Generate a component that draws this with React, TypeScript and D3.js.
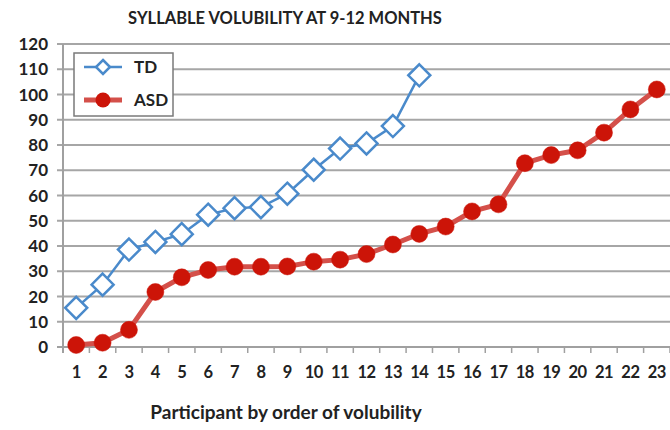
import React from "react";
import * as d3 from "d3";

const categories = Array.from({ length: 23 }, (_, i) => String(i + 1));
const tdValues = [15.5, 24.7, 38.6, 41.6, 44.7, 52.4, 55.0, 55.4, 60.7, 70.2, 78.6, 80.6, 87.5, 107.6];
const asdValues = [0.8, 1.7, 6.8, 21.8, 27.6, 30.5, 31.8, 31.8, 31.9, 33.8, 34.6, 36.8, 40.6, 44.8, 47.7, 53.7, 56.5, 72.8, 76.0, 77.9, 84.9, 94.1, 102.0];
const yTicks = [0, 10, 20, 30, 40, 50, 60, 70, 80, 90, 100, 110, 120];
const title = "SYLLABLE VOLUBILITY AT 9-12 MONTHS";
const xTitle = "Participant by order of volubility";

const W = 670, H = 430;
const L = 63, R = 670, T = 44, B = 347;
const font = "Lato, 'Open Sans', sans-serif";

export default function App() {
  const x = d3.scaleBand().domain(categories).range([L, R]).padding(0);
  const y = d3.scaleLinear().domain([0, 120]).range([B, T]);
  const cx = (i: number) => (x(categories[i]) as number) + x.bandwidth() / 2;
  const line = d3.line<number>().x((_, i) => cx(i)).y((d) => y(d));
  const diamond = (px: number, py: number, r: number) =>
    `M${px},${py - r}L${px + r},${py}L${px},${py + r}L${px - r},${py}Z`;
  const blue = "#4a8acb";
  const red = "#cc1408";
  const redLine = "#d4504a";
  return (
    <svg width={W} height={H} style={{ position: "absolute", left: 0, top: 0, background: "#fff" }}>
      <rect x={0} y={0} width={W} height={H} fill="#fff" />
      <text x={285} y={24} textAnchor="middle" fontFamily={font} fontWeight="bold" fontSize={16.5} fill="#222">{title}</text>
      {yTicks.map((t) => (
        <g key={t}>
          <line x1={t === 0 ? 57 : 57} x2={R} y1={y(t)} y2={y(t)} stroke={t === 0 ? "#a0a0a0" : "#a6a6a6"} strokeWidth={2} />
          <text x={48} y={y(t)} dy="0.36em" textAnchor="end" fontFamily={font} fontWeight="bold" fontSize={17} fill="#222">{t}</text>
        </g>
      ))}
      <line x1={L} x2={L} y1={T} y2={B + 6} stroke="#a0a0a0" strokeWidth={2} />
      {categories.map((c, i) => (
        <g key={c}>
          <line x1={(x(c) as number) + x.bandwidth()} x2={(x(c) as number) + x.bandwidth()} y1={B} y2={B + 6} stroke="#a0a0a0" strokeWidth={1.5} />
          <text x={cx(i)} y={372} dy="0.36em" textAnchor="middle" fontFamily={font} fontWeight="bold" fontSize={16.5} letterSpacing={-0.5} fill="#222">{c}</text>
        </g>
      ))}
      <text x={286} y={419} textAnchor="middle" fontFamily={font} fontWeight="bold" fontSize={19} fill="#222">{xTitle}</text>
      <path d={line(asdValues) as string} fill="none" stroke={redLine} strokeWidth={5} />
      {asdValues.map((v, i) => (
        <circle key={i} cx={cx(i)} cy={y(v)} r={8.5} fill={red} stroke={red} strokeWidth={0.5} />
      ))}
      <path d={line(tdValues) as string} fill="none" stroke={blue} strokeWidth={2.5} />
      {tdValues.map((v, i) => (
        <path key={i} d={diamond(cx(i), y(v), 11)} fill="#fff" stroke={blue} strokeWidth={2.5} />
      ))}
      <rect x={74} y={53} width={99} height={63} fill="#fff" stroke="#7a7a7a" strokeWidth={1.5} />
      <line x1={84} x2={122} y1={67} y2={67} stroke={blue} strokeWidth={2.5} />
      <path d={diamond(103, 67, 7)} fill="#fff" stroke={blue} strokeWidth={2.5} />
      <text x={134} y={67} dy="0.36em" fontFamily={font} fontWeight="bold" fontSize={17} fill="#222">TD</text>
      <line x1={84} x2={122} y1={100} y2={100} stroke={redLine} strokeWidth={5} />
      <circle cx={103} cy={100} r={7.5} fill={red} />
      <text x={134} y={100} dy="0.36em" fontFamily={font} fontWeight="bold" fontSize={17} fill="#222">ASD</text>
    </svg>
  );
}
